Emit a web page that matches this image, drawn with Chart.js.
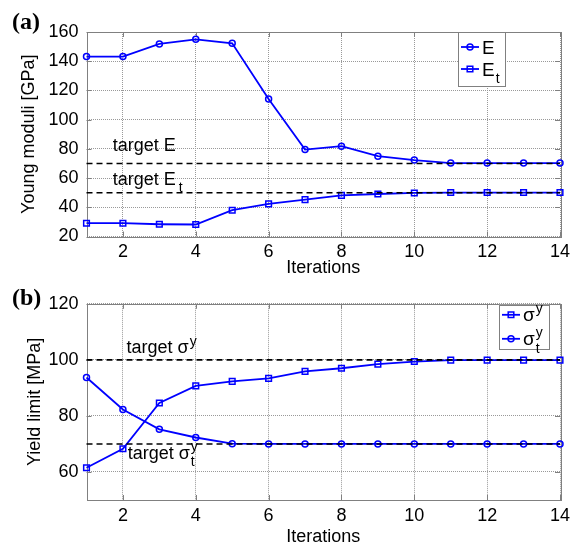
<!DOCTYPE html>
<html><head><meta charset="utf-8">
<script src="https://cdn.jsdelivr.net/npm/chart.js@4/dist/chart.umd.min.js"></script>
<style>
html,body{margin:0;padding:0;background:#fff;}
#wrap{position:relative;width:577px;height:550px;overflow:hidden;background:#fff;}
canvas{position:absolute;left:0;}
#c1{top:0}
#c2{top:285px}
</style></head><body>
<div id="wrap"><canvas id="c1" width="577" height="285"></canvas><canvas id="c2" width="577" height="265"></canvas></div>
<script>
// ---- data ----
const iterations = [1,2,3,4,5,6,7,8,9,10,11,12,13,14];
const youngE  = [143.2,143.2,151.8,155,152.3,114.1,79.5,81.8,75,72.3,70.3,70.3,70.3,70.3];
const youngEt = [29.1,29.1,28.4,28.2,38,42.3,45.2,48.2,49.1,49.8,50.1,50.1,50.1,50.1];
const targetYoung = [70, 50];          // target E, target E_t
const yieldSigma  = [61.5,68.3,84.6,90.7,92.3,93.4,95.9,97,98.5,99.4,99.9,99.9,99.9,99.9];
const yieldSigmaT = [93.7,82.3,75.2,72.3,70.1,70,70,70,70,70,70,70,70,70];
const targetYield = [100, 70];         // target sigma^y, target sigma_t^y
const xTicks = [2,4,6,8,10,12,14];
const yTicksTop = [20,40,60,80,100,120,140,160];
const yTicksBottom = [60,80,100,120];

// ---- helpers ----
const FAM = "'Liberation Sans', Arial, sans-serif";
const BLUE = '#0000ff';
const FRAME = '#808080';
const pts = ys => iterations.map((x,i)=>({x, y: ys[i]}));
const hline = v => [{x: iterations[0], y: v}, {x: iterations[iterations.length-1], y: v}];

function drawRich(ctx, x, y, parts, size){
  let cx = x;
  ctx.fillStyle = '#000';
  ctx.textBaseline = 'alphabetic';
  ctx.textAlign = 'left';
  for (const p of parts){
    if (p.t !== undefined){
      ctx.font = size + 'px ' + FAM;
      ctx.fillText(p.t, cx, y);
      cx += ctx.measureText(p.t).width;
    } else {
      const s = Math.round(size*0.75);
      ctx.font = s + 'px ' + FAM;
      let w = 0;
      if (p.sup){ ctx.fillText(p.sup, cx+1, y - size*0.42); w = Math.max(w, ctx.measureText(p.sup).width); }
      if (p.sub){ ctx.fillText(p.sub, cx+1+(p.subDx||0), y + size*0.4); w = Math.max(w, ctx.measureText(p.sub).width+(p.subDx||0)); }
      cx += w + 1;
    }
  }
}
function marker(ctx, style, x, y){
  ctx.save();
  ctx.strokeStyle = BLUE; ctx.lineWidth = 1.5;
  ctx.beginPath();
  if (style === 'circle') ctx.arc(x, y, 3, 0, Math.PI*2);
  else ctx.rect(x-2.8, y-2.8, 5.6, 5.6);
  ctx.stroke();
  ctx.restore();
}

function makeChart(canvas, cfg){
  const tickFont = {family: FAM, size: 18};
  const deco = {
    id: 'deco',
    beforeDatasetsDraw(chart){
      const ctx = chart.ctx, a = chart.chartArea;
      const xs = chart.scales.x, ys = chart.scales.y;
      ctx.save();
      ctx.strokeStyle = FRAME; ctx.lineWidth = 1;
      ctx.strokeRect(Math.round(a.left)+0.5, Math.round(a.top)+0.5, Math.round(a.right-a.left), Math.round(a.bottom-a.top));
      ctx.beginPath();
      for (const t of xs.ticks){
        const px = Math.round(xs.getPixelForValue(t.value))+0.5;
        ctx.moveTo(px, a.bottom); ctx.lineTo(px, a.bottom-5);
        ctx.moveTo(px, a.top); ctx.lineTo(px, a.top+5);
      }
      for (const t of ys.ticks){
        const py = Math.round(ys.getPixelForValue(t.value))+0.5;
        ctx.moveTo(a.left, py); ctx.lineTo(a.left+5, py);
        ctx.moveTo(a.right, py); ctx.lineTo(a.right-5, py);
      }
      ctx.stroke();
      ctx.restore();
    },
    afterDraw(chart){
      const ctx = chart.ctx, a = chart.chartArea;
      const xs = chart.scales.x, ys = chart.scales.y;
      ctx.save();
      for (const L of cfg.labels){
        drawRich(ctx, xs.getPixelForValue(L.x), ys.getPixelForValue(L.y) + L.dy, L.parts, 18);
      }
      // legend
      const b = cfg.legend;
      const bx = a.right + b.dx, by = a.top + b.dy;
      ctx.fillStyle = '#fff';
      ctx.fillRect(bx, by, b.w, b.h);
      ctx.strokeStyle = FRAME; ctx.lineWidth = 1;
      ctx.strokeRect(Math.round(bx)+0.5, Math.round(by)+0.5, b.w, b.h);
      for (const r of b.rows){
        const ry = by + r.dy;
        ctx.strokeStyle = BLUE; ctx.lineWidth = 1.8;
        ctx.beginPath(); ctx.moveTo(bx+3, ry); ctx.lineTo(bx+21, ry); ctx.stroke();
        marker(ctx, r.style, bx+12, ry);
        drawRich(ctx, bx+24, ry+6.5, r.parts, 19);
      }
      // panel letter
      ctx.fillStyle = '#000';
      ctx.font = 'bold 24px "Liberation Serif", "Times New Roman", serif';
      ctx.textBaseline = 'alphabetic'; ctx.textAlign = 'left';
      ctx.fillText(cfg.panel, 12, cfg.panelY);
      ctx.restore();
    }
  };
  const lineDs = (label, ys, style, r) => ({
    label, data: pts(ys), borderColor: BLUE, borderWidth: 1.8,
    pointStyle: style, pointRadius: r, pointBorderWidth: 1.5,
    pointBackgroundColor: 'rgba(0,0,0,0)', pointBorderColor: BLUE,
    fill: false, tension: 0, clip: false, order: 2
  });
  const tgtDs = v => ({
    label: 'target', data: hline(v), borderColor: '#000', borderWidth: 1.6,
    borderDash: [6,4], pointRadius: 0, fill: false, clip: false, order: 1
  });
  return new Chart(canvas, {
    type: 'line',
    data: { datasets: [
      lineDs(cfg.names[0], cfg.series[0], cfg.styles[0], cfg.styles[0]==='rect'?4:3),
      lineDs(cfg.names[1], cfg.series[1], cfg.styles[1], cfg.styles[1]==='rect'?4:3),
      tgtDs(cfg.targets[0]), tgtDs(cfg.targets[1])
    ]},
    options: {
      responsive: false, animation: false, devicePixelRatio: 1,
      layout: { padding: cfg.padding },
      plugins: { legend: {display:false}, tooltip: {enabled:false} },
      scales: {
        x: {
          type: 'linear', min: 1, max: 14,
          afterBuildTicks: s => { s.ticks = xTicks.map(v=>({value:v})); },
          afterFit: s => { s.height = cfg.xH; },
          grid: { color: '#999999', lineWidth: 1, drawTicks: false },
          border: { display: false, dash: [1,1] },
          ticks: { font: tickFont, color: '#000', padding: 5, maxRotation: 0 },
          title: { display: true, text: 'Iterations', font: tickFont, color: '#000', padding: 0 }
        },
        y: {
          min: cfg.yMin, max: cfg.yMax,
          afterBuildTicks: s => { s.ticks = cfg.yTicks.map(v=>({value:v})); },
          afterFit: s => { s.width = cfg.yW; },
          grid: { color: '#999999', lineWidth: 1, drawTicks: false },
          border: { display: false, dash: [1,1] },
          ticks: { font: tickFont, color: '#000', padding: 8 },
          title: { display: true, text: cfg.yTitle, font: tickFont, color: '#000', padding: 0 }
        }
      }
    },
    plugins: [deco]
  });
}

makeChart(document.getElementById('c1'), {
  names: ['E', 'E_t'], series: [youngE, youngEt], styles: ['circle','rect'],
  targets: targetYoung, yMin: 20, yMax: 160, yTicks: yTicksTop,
  yTitle: 'Young moduli [GPa]',
  padding: {left: 18, top: 32, right: 17, bottom: 6}, xH: 42.5, yW: 68.5,
  labels: [
    {x: 1.72, y: targetYoung[0], dy: -12.5, parts: [{t:'target E'}]},
    {x: 1.72, y: targetYoung[1], dy: -8, parts: [{t:'target E'}, {sub:'t', subDx:2}]}
  ],
  legend: {dx: -102, dy: 0, w: 47, h: 54, rows: [
    {dy: 15, style: 'circle', parts: [{t:'E'}]},
    {dy: 37, style: 'rect', parts: [{t:'E'}, {sub:'t'}]}
  ]},
  panel: '(a)', panelY: 29
});

makeChart(document.getElementById('c2'), {
  names: ['σ^y', 'σ_t^y'], series: [yieldSigma, yieldSigmaT], styles: ['rect','circle'],
  targets: targetYield, yMin: 50, yMax: 120, yTicks: yTicksBottom,
  yTitle: 'Yield limit [MPa]',
  padding: {left: 24, top: 15, right: 17, bottom: 2}, xH: 48, yW: 62.5,
  labels: [
    {x: 2.1, y: targetYield[0], dy: -6.5, parts: [{t:'target σ'}, {sup:'y'}]},
    {x: 2.13, y: targetYield[1], dy: 15, parts: [{t:'target σ'}, {sup:'y', sub:'t'}]}
  ],
  legend: {dx: -61, dy: 1, w: 50, h: 44, rows: [
    {dy: 10, style: 'rect', parts: [{t:'σ'}, {sup:'y'}]},
    {dy: 34, style: 'circle', parts: [{t:'σ'}, {sup:'y', sub:'t'}]}
  ]},
  panel: '(b)', panelY: 20
});
</script>
</body></html>
